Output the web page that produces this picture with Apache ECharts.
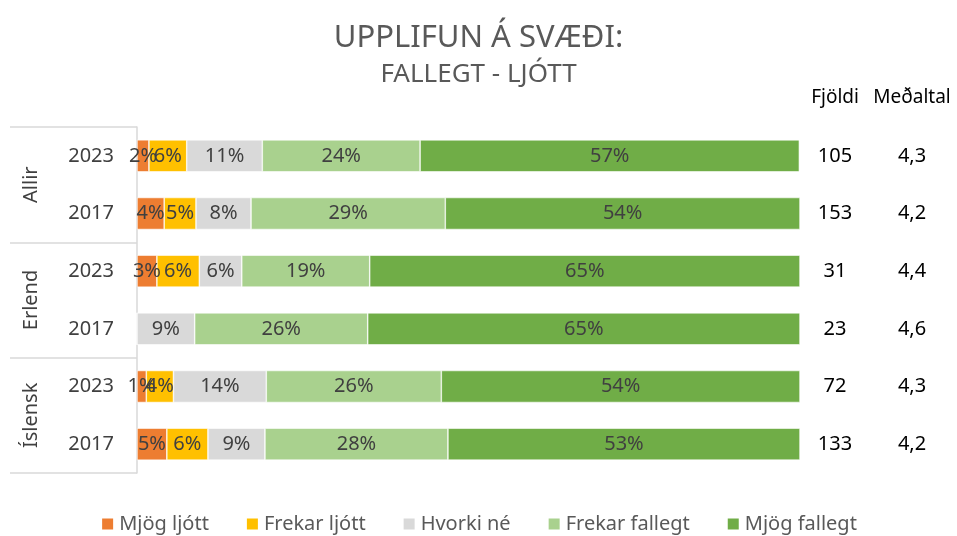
<!DOCTYPE html>
<html>
<head>
<meta charset="utf-8">
<script src="https://cdn.jsdelivr.net/npm/echarts@6/dist/echarts.min.js"></script>
<style>
    html, body { margin: 0; padding: 0; background: #fff; }
    #chart { width: 957px; height: 536px; }
</style>
</head>
<body>
<div id="chart"></div>
<script>
const years = ['2023', '2017', '2023', '2017', '2023', '2017']
const groups = ['Allir', 'Erlend', 'Íslensk']
const legendNames = ['Mjög ljótt', 'Frekar ljótt', 'Hvorki né', 'Frekar fallegt', 'Mjög fallegt']
const colors = ['#ED7D31', '#FFC000', '#D9D9D9', '#A9D18E', '#70AD47']

// hlutfall (%) fyrir hvern flokk, ein röð á hvern bar
const mjogLjott = [1.8, 4.1, 3.0, 0, 1.4, 4.5]
const frekarLjott = [5.7, 4.8, 6.4, 0, 4.1, 6.2]
const hvorki = [11.4, 8.3, 6.4, 8.7, 14.0, 8.6]
const frekarFallegt = [23.8, 29.3, 19.3, 26.1, 26.4, 27.6]
const mjogFallegt = [57.2, 53.5, 64.9, 65.2, 54.1, 53.1]

const fjoldi = ['105', '153', '31', '23', '72', '133']
const medaltal = ['4,3', '4,2', '4,4', '4,6', '4,3', '4,2']

const font = '"Noto Sans", "Open Sans", sans-serif'
const values = [mjogLjott, frekarLjott, hvorki, frekarFallegt, mjogFallegt]

const chart = echarts.init(document.getElementById('chart'))

const series = []
for (let i = 0; i < legendNames.length; i++) {
    series.push({
        name: legendNames[i],
        type: 'bar',
        stack: 'all',
        yAxisIndex: 0,
        barWidth: 32,
        data: values[i],
        itemStyle: {
            color: colors[i],
            borderColor: '#fff',
            borderWidth: 0.6
        },
        label: {
            show: true,
            color: '#404040',
            fontSize: 20,
            fontFamily: font,
            formatter(p) {
                return p.value ? Math.round(p.value) + '%' : ''
            }
        }
    })
}

const option = {
    animation: false,
    textStyle: { fontFamily: font },
    title: {
        text: 'UPPLIFUN Á SVÆÐI:',
        subtext: 'FALLEGT - LJÓTT',
        left: 'center',
        top: 18,
        itemGap: 8,
        textStyle: {
            color: '#595959',
            fontSize: 31,
            fontWeight: 'normal',
            fontFamily: font
        },
        subtextStyle: {
            color: '#595959',
            fontSize: 26,
            fontFamily: font
        }
    },
    legend: {
        data: legendNames,
        bottom: -3,
        left: 'center',
        itemWidth: 13,
        itemHeight: 13,
        itemGap: 36,
        icon: 'rect',
        textStyle: {
            color: '#595959',
            fontSize: 20,
            fontFamily: font
        }
    },
    grid: {
        left: 137,
        right: 157,
        top: 127,
        bottom: 63
    },
    xAxis: {
        type: 'value',
        min: 0,
        max: 100,
        show: false
    },
    yAxis: [{
        type: 'category',
        data: years,
        inverse: true,
        position: 'left',
        axisLine: { show: false },
        axisTick: { show: false },
        axisLabel: {
            color: '#404040',
            fontSize: 20,
            margin: 23
        }
    }, {
        type: 'category',
        data: groups,
        inverse: true,
        position: 'left',
        axisLine: { show: true, lineStyle: { color: '#D9D9D9', width: 1.5 } },
        axisTick: { show: true, length: 127, lineStyle: { color: '#D9D9D9', width: 1.5 } },
        axisLabel: {
            color: '#404040',
            fontSize: 20,
            rotate: 90,
            margin: 96
        }
    }, {
        type: 'category',
        data: fjoldi,
        inverse: true,
        position: 'right',
        offset: 35,
        name: 'Fjöldi',
        nameLocation: 'start',
        nameGap: 20,
        nameTextStyle: { color: '#000', fontSize: 19, align: 'center', fontFamily: font },
        axisLine: { show: false },
        axisTick: { show: false },
        axisLabel: { color: '#000', fontSize: 20, align: 'center', margin: 0 }
    }, {
        type: 'category',
        data: medaltal,
        inverse: true,
        position: 'right',
        offset: 112,
        name: 'Meðaltal',
        nameLocation: 'start',
        nameGap: 20,
        nameTextStyle: { color: '#000', fontSize: 19, align: 'center', fontFamily: font },
        axisLine: { show: false },
        axisTick: { show: false },
        axisLabel: { color: '#000', fontSize: 20, align: 'center', margin: 0 }
    }],
    series: series
}

chart.setOption(option)
</script>
</body>
</html>
